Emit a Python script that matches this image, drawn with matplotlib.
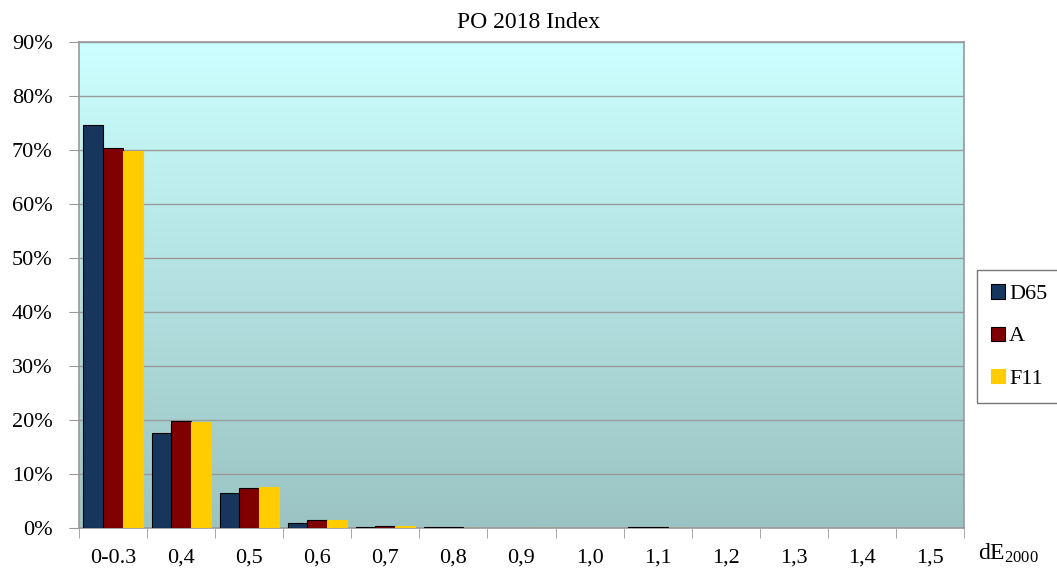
import numpy as np
import matplotlib.pyplot as plt
from matplotlib.colors import LinearSegmentedColormap

plt.rcParams['font.family'] = ['Liberation Serif', 'DejaVu Serif']
plt.rcParams['mathtext.fontset'] = 'custom'
plt.rcParams['mathtext.rm'] = 'Liberation Serif'

# data (percent of samples per dE2000 bin)
categories = ['0-0.3', '0,4', '0,5', '0,6', '0,7', '0,8', '0,9', '1,0', '1,1', '1,2', '1,3', '1,4', '1,5']
d65 = [74.6, 17.6, 6.4, 1.0, 0.15, 0.2, 0, 0, 0.15, 0, 0, 0, 0]
a_ill = [70.4, 19.9, 7.35, 1.5, 0.35, 0.2, 0, 0, 0.1, 0, 0, 0, 0]
f11 = [69.9, 19.7, 7.6, 1.55, 0.4, 0.05, 0.05, 0, 0.05, 0, 0, 0, 0]
series_names = ['D65', 'A', 'F11']

fig = plt.figure(figsize=(10.57, 5.72), dpi=100)
ax = fig.add_axes([79/1057, 1-528/572, (964-79)/1057, (528-42)/572])

n = len(categories)
x = np.arange(n)
w = 0.29

# gradient background
cmap = LinearSegmentedColormap.from_list('bg', ['#9BC3C3', '#CCFFFF'])
grad = np.linspace(0, 1, 256).reshape(-1, 1)
ax.imshow(grad, cmap=cmap, aspect='auto', origin='lower',
          extent=[-0.5, n-0.5, 0, 90], zorder=0)

colors = ['#17365D', '#800000', '#FFCC00']
edges = ['black', 'black', '#FFCC00']
for i, (vals, name) in enumerate(zip([d65, a_ill, f11], series_names)):
    vals = np.array(vals)
    m = vals > 0
    ax.bar(x[m] + (i-1)*w, vals[m], w, color=colors[i], edgecolor=edges[i],
           linewidth=0.8, zorder=3)
    ax.bar([np.nan], [0], w, color=colors[i], edgecolor=edges[i], linewidth=0.8, label=name)

ax.set_xlim(-0.5, n-0.5)
ax.set_ylim(0, 90)
ax.set_yticks(np.arange(0, 91, 10))
ax.set_yticklabels([f'{v}%' for v in range(0, 91, 10)], fontsize=16)
ax.yaxis.grid(True, color='#999999', linewidth=1, zorder=1)
for gl in ax.get_ygridlines():
    gl.set_zorder(1)

ax.set_xticks(x)
ax.set_xticklabels(categories, fontsize=16)
ax.set_xticks(np.arange(-0.5, n, 1), minor=True)
ax.tick_params(axis='x', which='major', length=0, pad=15)
ax.tick_params(axis='x', which='minor', length=7, color='#999999', direction='out')
ax.tick_params(axis='y', length=7, color='#999999', direction='out', pad=12)

for s in ax.spines.values():
    s.set_color('#999999')
    s.set_linewidth(1.2)

fig.text(529/1057, 1-22/572, 'PO 2018 Index', ha='center', va='center', fontsize=17)
fig.text(978/1057, 1-553/572, r'$\mathrm{dE_{2000}}$', ha='left', va='center', fontsize=17)

leg = fig.legend(loc='upper left', bbox_to_anchor=(977/1057, 1-270/572), fontsize=16,
                 frameon=True, fancybox=False, edgecolor='#555555', handlelength=0.6,
                 handleheight=0.6, handletextpad=0.2, labelspacing=1.0, borderpad=0.65,
                 borderaxespad=0)
leg.get_frame().set_linewidth(1.0)

fig.savefig('out.png', dpi=100)
